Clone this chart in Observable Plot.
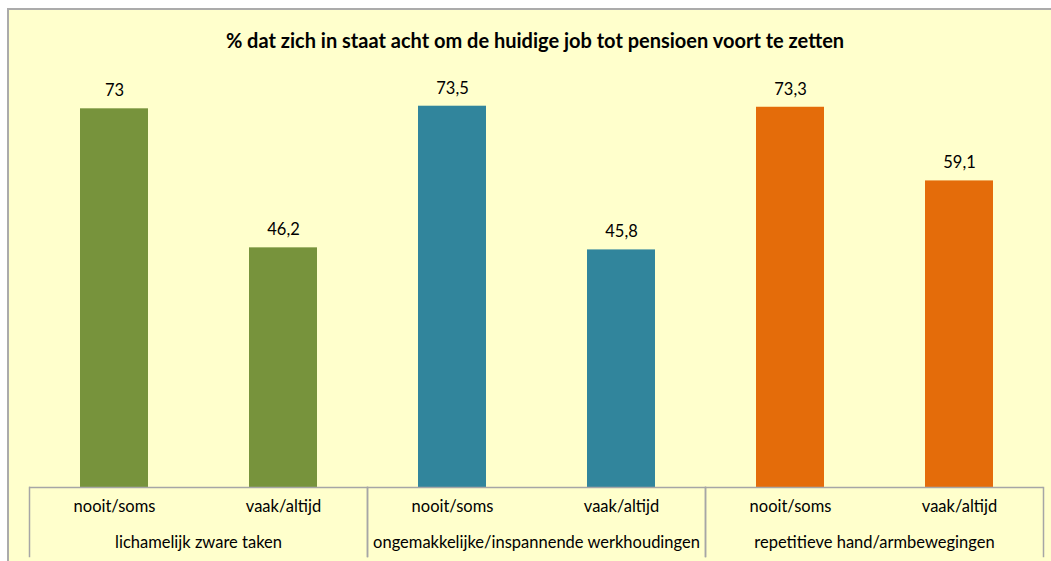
<!DOCTYPE html>
<html>
<head>
<meta charset="utf-8">
<script src="https://cdn.jsdelivr.net/npm/d3@7"></script>
<script src="https://cdn.jsdelivr.net/npm/@observablehq/plot@0.6"></script>
<style>
  html, body { margin: 0; padding: 0; overflow: hidden; background: #ffffff; }
  #wrap { position: relative; width: 1051px; height: 561px; overflow: hidden; font-family: Lato, "Noto Sans", sans-serif; }
  #bg { position: absolute; left: 7px; top: 8px; width: 1100px; height: 600px; background: #FFFFCC; border: 2px solid #ababab; box-sizing: border-box; }
  #title { position: absolute; left: 0; top: 28px; width: 1070px; text-align: center; font-weight: bold; font-size: 20px; color: #000; }
  #chart { position: absolute; left: 0; top: 0; }
  #chart svg { background: transparent; }
</style>
</head>
<body>
<div id="wrap">
  <div id="bg"></div>
  <div id="title">% dat zich in staat acht om de huidige job tot pensioen voort te zetten</div>
  <div id="chart"></div>
</div>
<script>
const groups = ["lichamelijk zware taken", "ongemakkelijke/inspannende werkhoudingen", "repetitieve hand/armbewegingen"];
const categories = ["nooit/soms", "vaak/altijd"];
const values = [[73, 46.2], [73.5, 45.8], [73.3, 59.1]];
const colors = ["#77933C", "#31859C", "#E46C0A"];
const labels = [["73", "46,2"], ["73,5", "45,8"], ["73,3", "59,1"]];

const data = [];
groups.forEach((g, i) => categories.forEach((c, j) => data.push({group: g, cat: c, value: values[i][j], label: labels[i][j], color: colors[i]})));

const lineColor = "#a6a6a6";
const fs = 16.5;
const chart = Plot.plot({
  width: 1051,
  height: 561,
  marginLeft: 28,
  marginRight: 7,
  marginTop: 72,
  marginBottom: 74,
  style: {background: "transparent", fontFamily: "Lato, 'Noto Sans', sans-serif", fontSize: fs + "px", color: "#000"},
  fx: {domain: groups, padding: 0, axis: null},
  x: {domain: categories, paddingInner: 0.6, paddingOuter: 0.3, axis: null},
  y: {domain: [0, 80], axis: null},
  marks: [
    Plot.barY(data, {fx: "group", x: "cat", y: "value", fill: "color"}),
    Plot.text(data, {fx: "group", x: "cat", y: "value", text: "label", dy: -18, fontSize: fs, fill: "#000"}),
    Plot.ruleY([0], {stroke: lineColor, strokeWidth: 1.5}),
    Plot.frame({anchor: "left", stroke: lineColor, strokeWidth: 1.5, insetTop: 346, dy: 69}),
    Plot.frame({anchor: "right", stroke: lineColor, strokeWidth: 1.5, insetTop: 346, dy: 69}),
    Plot.text(data, {fx: "group", x: "cat", text: "cat", frameAnchor: "bottom", dy: 24, fontSize: fs, fill: "#000"}),
    Plot.text(groups, {fx: d => d, text: d => d, frameAnchor: "bottom", dy: 60, fontSize: fs, fill: "#000"})
  ]
});
document.getElementById("chart").appendChild(chart);
</script>
</body>
</html>
